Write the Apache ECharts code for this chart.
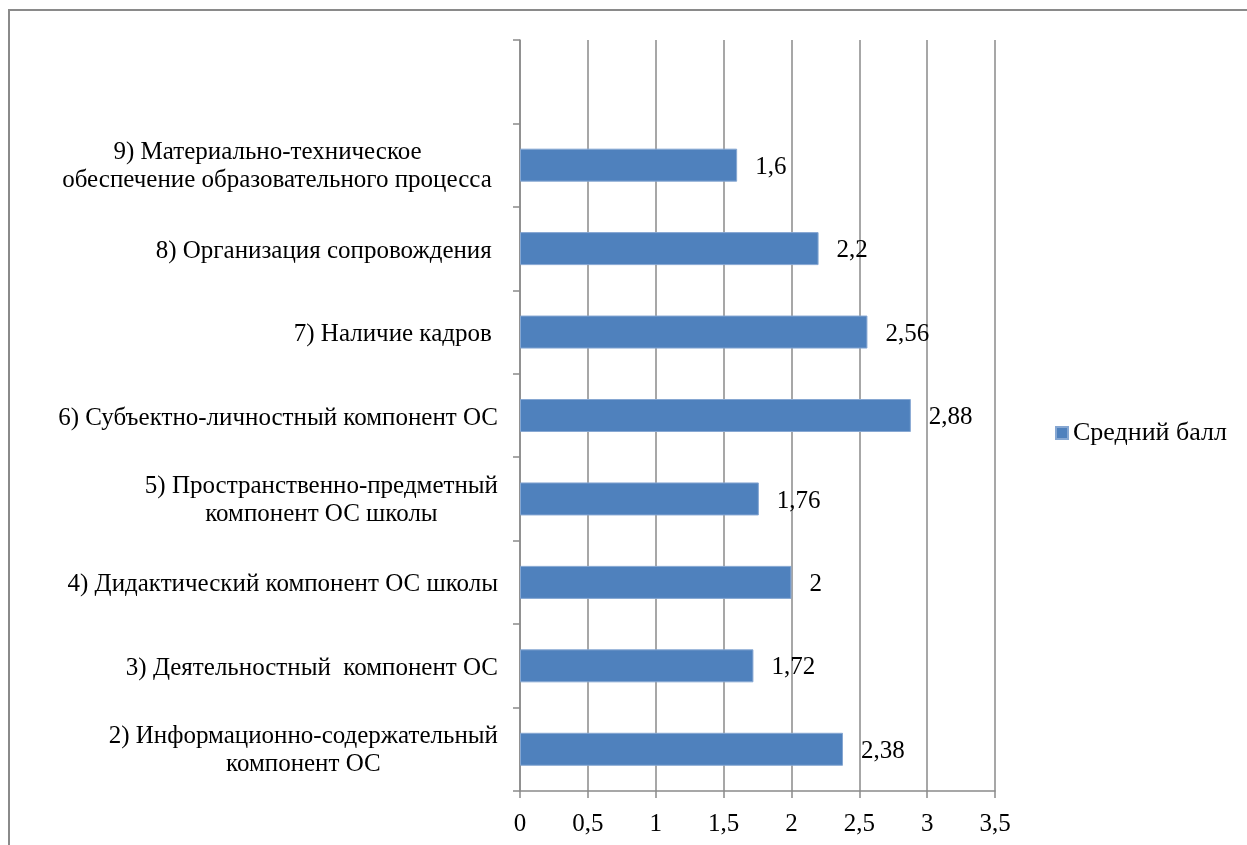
<!DOCTYPE html>
<html>
<head>
<meta charset="utf-8">
<script src="https://cdn.jsdelivr.net/npm/echarts@6/dist/echarts.min.js"></script>
<style>
  html, body { margin: 0; padding: 0; background: #fff; }
  #chart { width: 1247px; height: 845px; }
</style>
</head>
<body>
<div id="chart"></div>
<script>
// Categories listed bottom-to-top; the topmost slot is an empty category.
const categories = [
  '2) Информационно-содержательный\nкомпонент ОС',
  '3) Деятельностный  компонент ОС',
  '4) Дидактический компонент ОС школы',
  '5) Пространственно-предметный\nкомпонент ОС школы',
  '6) Субъектно-личностный компонент ОС',
  '7) Наличие кадров ',
  '8) Организация сопровождения ',
  '9) Материально-техническое    \nобеспечение образовательного процесса ',
  ''
];
const seriesName = 'Средний балл';
const scores = [2.38, 1.72, 2, 1.76, 2.88, 2.56, 2.2, 1.6, null];
const xTicks = { min: 0, max: 3.5, step: 0.5 };

const FONT = '"Liberation Serif", "Times New Roman", serif';
const GRID_GRAY = '#8a8a8a';
const BAR_BLUE = '#4F81BD';

const comma = v => String(v).replace('.', ',');

// First line of each label gets a little top padding so the text block sits
// slightly below the band centre.
const categoryLabel = v => {
  if (!v) return '';
  return v.split('\n').map((s, i) => (i === 0 ? '{a|' : '{c|') + s + '}').join('\n');
};

const chart = echarts.init(document.getElementById('chart'), null, { renderer: 'canvas' });

const labelText = { fontFamily: FONT, fontSize: 25, lineHeight: 30, color: '#000', align: 'center' };

chart.setOption({
  animation: false,
  backgroundColor: '#ffffff',
  graphic: [{
    type: 'rect',
    silent: true,
    z: -10,
    shape: { x: 9, y: 10, width: 1400, height: 1000 },
    style: { fill: 'none', stroke: '#8a8a8a', lineWidth: 2 }
  }],
  grid: { left: 520, top: 40, right: 252, bottom: 54, containLabel: false },
  legend: {
    data: [seriesName],
    left: 1050,
    top: 415,
    icon: 'rect',
    itemWidth: 12,
    itemHeight: 12,
    itemGap: 5,
    textStyle: { fontFamily: FONT, fontSize: 26, color: '#000' }
  },
  xAxis: {
    type: 'value',
    min: xTicks.min,
    max: xTicks.max,
    interval: xTicks.step,
    axisLine: { show: true, lineStyle: { color: GRID_GRAY, width: 1.5 } },
    axisTick: { show: true, length: 7, lineStyle: { color: GRID_GRAY, width: 1.5 } },
    splitLine: { show: true, lineStyle: { color: GRID_GRAY, width: 1.5 } },
    axisLabel: {
      margin: 21,
      fontFamily: FONT,
      fontSize: 25,
      color: '#000',
      formatter: v => comma(v)
    }
  },
  yAxis: {
    type: 'category',
    data: categories,
    axisLine: { show: true, lineStyle: { color: GRID_GRAY, width: 1.5 } },
    axisTick: { show: true, length: 7, lineStyle: { color: GRID_GRAY, width: 1.5 } },
    splitLine: { show: false },
    axisLabel: {
      interval: 0,
      margin: 22,
      align: 'right',
      formatter: categoryLabel,
      rich: {
        a: Object.assign({ padding: [5, 0, 0, 0] }, labelText),
        c: labelText
      }
    }
  },
  series: [{
    name: seriesName,
    type: 'bar',
    data: scores,
    barWidth: 33,
    itemStyle: { color: BAR_BLUE, borderColor: '#86a7d2', borderWidth: 1 },
    label: {
      show: true,
      position: 'right',
      distance: 18,
      offset: [0, 2],
      fontFamily: FONT,
      fontSize: 25,
      color: '#000',
      formatter: p => comma(p.value)
    }
  }]
});
</script>
</body>
</html>
